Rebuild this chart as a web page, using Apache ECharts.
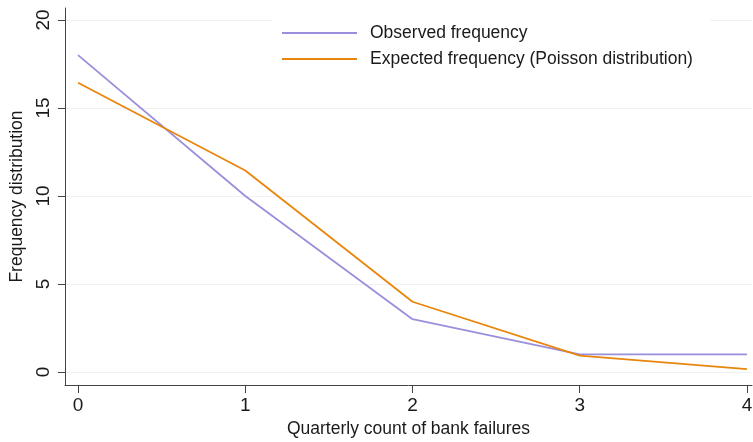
<!DOCTYPE html>
<html>
<head>
<meta charset="utf-8">
<script src="https://cdn.jsdelivr.net/npm/echarts@6/dist/echarts.min.js"></script>
<style>html,body{margin:0;padding:0;background:#fff}#c{width:753px;height:442px}</style>
</head>
<body>
<div id="c"></div>
<script>
var counts = [0, 1, 2, 3, 4];
var observed = [18, 10, 3, 1, 1];
var expected = [16.43, 11.45, 3.99, 0.93, 0.16];
var yTicks = [0, 5, 10, 15, 20];
var xTicks = [0, 1, 2, 3, 4];

var chart = echarts.init(document.getElementById('c'));
var font = 'Liberation Sans, Arial, sans-serif';
chart.setOption({
  animation: false,
  grid: {left: 65, right: 1, top: 8, bottom: 57, containLabel: false, outerBoundsMode: 'none'},
  legend: {
    orient: 'vertical', left: 273, top: 16,
    backgroundColor: '#fff',
    padding: [8, 17, 10, 9],
    itemWidth: 75, itemHeight: 2, itemGap: 8,
    icon: 'rect',
    textStyle: {fontFamily: font, fontSize: 17.5, color: '#1a1a1a', padding: [0, 0, 0, 8]},
    data: ['Observed frequency', 'Expected frequency (Poisson distribution)']
  },
  xAxis: {
    type: 'value', min: -0.078, max: 4.03,
    name: 'Quarterly count of bank failures', nameLocation: 'middle', nameGap: 34,
    nameTextStyle: {fontFamily: font, fontSize: 17.5, color: '#1a1a1a'},
    axisLine: {show: true, onZero: false, lineStyle: {color: '#444', width: 1}},
    axisTick: {show: true, length: 8, lineStyle: {color: '#444'}, customValues: xTicks},
    axisLabel: {customValues: xTicks, fontFamily: font, fontSize: 19, color: '#1a1a1a', margin: 11},
    splitLine: {show: false}
  },
  yAxis: {
    type: 'value', min: -0.739, max: 20.68,
    name: 'Frequency distribution', nameLocation: 'middle', nameGap: 36,
    nameTextStyle: {fontFamily: font, fontSize: 17.5, color: '#1a1a1a'},
    axisLine: {show: true, onZero: false, lineStyle: {color: '#444', width: 1}},
    axisTick: {show: true, length: 7, lineStyle: {color: '#444'}, customValues: yTicks},
    axisLabel: {customValues: yTicks, rotate: 90, fontFamily: font, fontSize: 19, color: '#1a1a1a', margin: 12},
    splitLine: {show: true, lineStyle: {color: '#edf3f3', width: 1}}
  },
  series: [
    {name: 'Observed frequency', type: 'line', symbol: 'none',
     data: counts.map(function(c, i){return [c, observed[i]];}),
     lineStyle: {color: '#9a8fdc', width: 1.8}, itemStyle: {color: '#9a8fdc'}},
    {name: 'Expected frequency (Poisson distribution)', type: 'line', symbol: 'none',
     data: counts.map(function(c, i){return [c, expected[i]];}),
     lineStyle: {color: '#e8860c', width: 1.8}, itemStyle: {color: '#e8860c'}}
  ]
});
</script>
</body>
</html>
